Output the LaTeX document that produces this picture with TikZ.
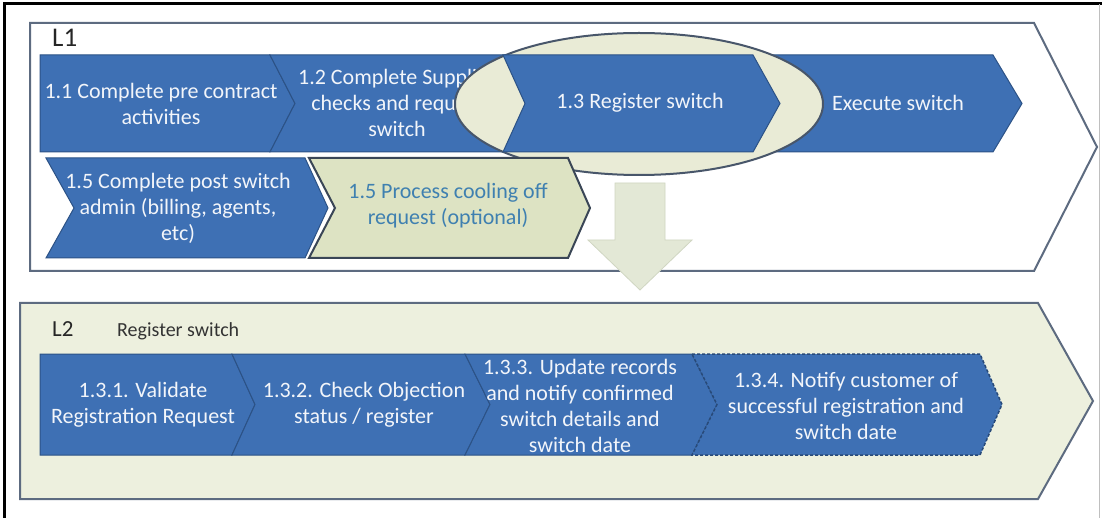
\documentclass[tikz,border=0pt]{standalone}
\usepackage{fontspec}
\setmainfont{Carlito}
\definecolor{chevblue}{HTML}{3E70B4}
\definecolor{chevedge}{HTML}{2C5286}
\definecolor{txtwhite}{HTML}{F2F5FA}
\definecolor{boxedge}{HTML}{5D6B80}
\definecolor{lightgreen}{HTML}{EDF0DE}
\definecolor{ellfill}{HTML}{E9EBD6}
\definecolor{elledge}{HTML}{48566A}
\definecolor{coolfill}{HTML}{DDE3C3}
\definecolor{cooledge}{HTML}{3A4656}
\definecolor{cooltext}{HTML}{3F80B0}
\definecolor{arrfill}{HTML}{E3E8D6}
\definecolor{arredge}{HTML}{D0D6C2}
\newcommand{\chev}[7]{% style, xl, notch, xr, tip, ytop, ybot
  \path[#1] (#2,#6) -- (#4,#6) -- ({#4+#5},{(#6+#7)/2}) -- (#4,#7) -- (#2,#7) -- ({#2+#3},{(#6+#7)/2}) -- cycle;}
\tikzset{
  bluechev/.style={fill=chevblue, draw=chevedge, line width=1pt, line join=miter},
  body/.style={font=\fontsize{22}{26}\selectfont, align=center, text=txtwhite, inner sep=0pt},
  container/.style={draw=boxedge, line width=2pt, line join=miter},
}
\begin{document}
\begin{tikzpicture}[x=1pt,y=-1pt]
\useasboundingbox (0,0) rectangle (1102,518);
\fill[white] (0,0) rectangle (1102,518);
% containers
\path[container, fill=white] (30,23) -- (1034,23) -- (1097,147) -- (1034,271) -- (30,271) -- cycle;
\path[container, fill=lightgreen] (20,303) -- (1038,303) -- (1093,401) -- (1038,499) -- (20,499) -- cycle;
% row 1
\chev{bluechev}{40}{0}{270}{25}{55}{152}
\chev{bluechev}{270}{25}{505}{22}{55}{152}
\chev{bluechev}{755}{25}{993}{29}{55}{152}
\node[body] (t11) at (161,104) {1.1 Complete pre contract\\activities};
\node[body] (t12) at (397,103) {1.2 Complete Supplier\\checks and request\\switch};
\node[body] (tex) at (898,103) {Execute switch};
% ellipse
\path[fill=ellfill, draw=elledge, line width=2pt] (639,104) ellipse [x radius=184, y radius=71];
\chev{bluechev}{503}{22}{753}{27}{55}{152}
\node[body] (t13) at (640,103) {1.3 Register switch};
% row 2
\chev{bluechev}{46}{28}{305}{23}{158}{258}
\chev{fill=coolfill, draw=cooledge, line width=2pt, line join=miter}{309}{26}{568}{22}{158}{258}
\node[body] (t15a) at (178,208) {1.5 Complete post switch\\admin (billing, agents,\\etc)};
\node[body, text=cooltext] (t15b) at (448,206) {1.5 Process cooling off\\request (optional)};
% down arrow
\path[fill=arrfill, draw=arredge, line width=0.8pt] (615,183) -- (665,183) -- (665,240) -- (692,240) -- (640,290) -- (588,240) -- (615,240) -- cycle;
% L2 row
\chev{bluechev}{40}{0}{232}{23}{354}{455}
\chev{bluechev}{232}{23}{465}{25}{354}{455}
\chev{bluechev}{465}{25}{692}{25}{354}{455}
\chev{fill=chevblue, draw=chevedge!90!black, line width=1.5pt, dash pattern=on 3pt off 2pt, line join=miter}{692}{25}{980}{22}{354}{455}
\node[body] (t131) at (143,405) {1.3.1. Validate\\Registration Request};
\node[body] (t132) at (364,405) {1.3.2. Check Objection\\status / register};
\node[body] (t133) at (580,406) {1.3.3. Update records\\and notify confirmed\\switch details and\\switch date};
\node[body] (t134) at (846,406) {1.3.4. Notify customer of\\successful registration and\\switch date};
% labels
\node[anchor=base west, inner sep=0pt, font=\fontsize{27}{30}\selectfont, text=black!85] (l1) at (52,47) {L1};
\node[anchor=base west, inner sep=0pt, font=\fontsize{23}{26}\selectfont, text=black!85] (l2) at (52,337) {L2};
\node[anchor=base west, inner sep=0pt, font=\fontsize{20}{24}\selectfont, text=black!80] (rs) at (117,337) {Register switch};
% outer frame
\draw[black, line width=3pt] (4,518) -- (4,4) -- (1102,4);
\draw[black!25, line width=1pt] (1099,4) -- (1099,518);
\end{tikzpicture}
\end{document}
